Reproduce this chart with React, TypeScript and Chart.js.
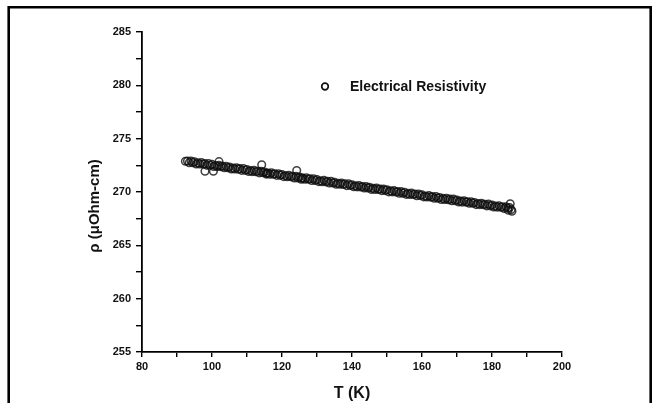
import React, { useEffect, useRef } from "react";
import { Chart, registerables } from "chart.js";

Chart.register(...registerables);

const SERIES_LABEL = "Electrical Resistivity";
const X_TITLE = "T (K)";
const Y_TITLE = "ρ (μOhm-cm)";

const X_MIN = 80;
const X_MAX = 200;
const X_STEP = 10;
const X_LABEL_STEP = 20;
const Y_MIN = 255;
const Y_MAX = 285;
const Y_STEP = 2.5;
const Y_LABEL_STEP = 5;

const T_VALUES = [
  93, 93.5, 94, 94.5, 95, 95.5, 96, 96.5, 97, 97.5,
  98, 98.5, 99, 99.5, 100, 100.5, 101, 101.5, 102, 102.5,
  103, 103.5, 104, 104.5, 105, 105.5, 106, 106.5, 107, 107.5,
  108, 108.5, 109, 109.5, 110, 110.5, 111, 111.5, 112, 112.5,
  113, 113.5, 114, 114.5, 115, 115.5, 116, 116.5, 117, 117.5,
  118, 118.5, 119, 119.5, 120, 120.5, 121, 121.5, 122, 122.5,
  123, 123.5, 124, 124.5, 125, 125.5, 126, 126.5, 127, 127.5,
  128, 128.5, 129, 129.5, 130, 130.5, 131, 131.5, 132, 132.5,
  133, 133.5, 134, 134.5, 135, 135.5, 136, 136.5, 137, 137.5,
  138, 138.5, 139, 139.5, 140, 140.5, 141, 141.5, 142, 142.5,
  143, 143.5, 144, 144.5, 145, 145.5, 146, 146.5, 147, 147.5,
  148, 148.5, 149, 149.5, 150, 150.5, 151, 151.5, 152, 152.5,
  153, 153.5, 154, 154.5, 155, 155.5, 156, 156.5, 157, 157.5,
  158, 158.5, 159, 159.5, 160, 160.5, 161, 161.5, 162, 162.5,
  163, 163.5, 164, 164.5, 165, 165.5, 166, 166.5, 167, 167.5,
  168, 168.5, 169, 169.5, 170, 170.5, 171, 171.5, 172, 172.5,
  173, 173.5, 174, 174.5, 175, 175.5, 176, 176.5, 177, 177.5,
  178, 178.5, 179, 179.5, 180, 180.5, 181, 181.5, 182, 182.5,
  183, 183.5, 184, 184.5, 185, 185.5,
];

const RHO_VALUES = [
  272.90, 272.75, 272.90, 272.75, 272.82, 272.63, 272.73, 272.62, 272.75, 272.62,
  272.66, 272.51, 272.66, 272.51, 272.59, 272.39, 272.49, 272.38, 272.51, 272.38,
  272.42, 272.27, 272.42, 272.27, 272.35, 272.15, 272.25, 272.15, 272.27, 272.14,
  272.19, 272.03, 272.19, 272.03, 272.11, 271.92, 272.01, 271.91, 272.04, 271.90,
  271.95, 271.79, 271.95, 271.80, 271.87, 271.68, 271.78, 271.67, 271.80, 271.66,
  271.71, 271.56, 271.71, 271.56, 271.63, 271.44, 271.54, 271.43, 271.56, 271.43,
  271.47, 271.32, 271.48, 271.32, 271.40, 271.20, 271.30, 271.20, 271.32, 271.19,
  271.24, 271.08, 271.24, 271.08, 271.16, 270.97, 271.06, 270.96, 271.09, 270.95,
  271.00, 270.84, 271.00, 270.85, 270.92, 270.73, 270.82, 270.72, 270.85, 270.71,
  270.76, 270.60, 270.76, 270.61, 270.68, 270.49, 270.59, 270.48, 270.61, 270.47,
  270.52, 270.37, 270.52, 270.37, 270.45, 270.25, 270.35, 270.24, 270.37, 270.24,
  270.28, 270.13, 270.28, 270.13, 270.21, 270.01, 270.11, 270.01, 270.13, 270.00,
  270.04, 269.89, 270.05, 269.89, 269.97, 269.78, 269.87, 269.77, 269.89, 269.76,
  269.81, 269.65, 269.81, 269.66, 269.73, 269.54, 269.63, 269.53, 269.66, 269.52,
  269.57, 269.41, 269.57, 269.42, 269.49, 269.30, 269.40, 269.29, 269.42, 269.28,
  269.33, 269.18, 269.33, 269.18, 269.25, 269.06, 269.16, 269.05, 269.18, 269.05,
  269.09, 268.94, 269.09, 268.94, 269.02, 268.82, 268.92, 268.82, 268.94, 268.81,
  268.85, 268.70, 268.86, 268.70, 268.78, 268.59, 268.68, 268.58, 268.70, 268.57,
  268.62, 268.46, 268.62, 268.47, 268.54, 268.35,
];

// individually visible scattered readings
const T_SCATTER = [92.4, 98.0, 100.4, 102.0, 114.2, 115.6, 124.2, 125.6, 184.6, 185.2, 185.7];
const RHO_SCATTER = [272.88, 271.95, 271.95, 272.85, 272.55, 271.75, 272.02, 271.3, 268.3, 268.9, 268.2];

const FONT = "'Liberation Sans', Arial, sans-serif";

const decorPlugin = {
  id: "decor",
  afterDraw(chart: any) {
    const ctx = chart.ctx as CanvasRenderingContext2D;
    ctx.save();
    // outer frame (no bottom edge)
    ctx.strokeStyle = "#000";
    ctx.lineWidth = 2.6;
    ctx.beginPath();
    ctx.moveTo(8.7, 403);
    ctx.lineTo(8.7, 7.2);
    ctx.lineTo(650.7, 7.2);
    ctx.lineTo(650.7, 403);
    ctx.stroke();

    ctx.fillStyle = "#111";
    // x title
    ctx.font = `bold 16px ${FONT}`;
    ctx.textAlign = "center";
    ctx.textBaseline = "alphabetic";
    const xs = chart.scales.x;
    ctx.fillText(X_TITLE, (xs.left + xs.right) / 2, 398);

    // y title
    ctx.save();
    ctx.translate(98.7, 206);
    ctx.rotate(-Math.PI / 2);
    ctx.font = `bold 15px ${FONT}`;
    ctx.fillText(Y_TITLE, 0, 0);
    ctx.restore();

    // legend
    ctx.beginPath();
    ctx.lineWidth = 1.7;
    ctx.strokeStyle = "#111";
    ctx.arc(325, 86.5, 3.3, 0, Math.PI * 2);
    ctx.stroke();
    ctx.font = `bold 14px ${FONT}`;
    ctx.textAlign = "left";
    ctx.textBaseline = "middle";
    ctx.fillText(SERIES_LABEL, 350, 87);
    ctx.restore();
  },
};

export default function App() {
  const ref = useRef<HTMLCanvasElement | null>(null);

  useEffect(() => {
    if (!ref.current) return;
    const points = T_VALUES.map((t, i) => ({ x: t, y: RHO_VALUES[i] })).concat(
      T_SCATTER.map((t, i) => ({ x: t, y: RHO_SCATTER[i] }))
    );
    const chart = new Chart(ref.current, {
      type: "scatter",
      data: {
        datasets: [
          {
            label: SERIES_LABEL,
            data: points,
            pointStyle: "circle",
            pointRadius: 3.8,
            pointBorderWidth: 1.5,
            pointBorderColor: "rgba(15,15,15,0.8)",
            pointBackgroundColor: "rgba(255,255,255,0)",
            showLine: false,
          },
        ],
      },
      options: {
        responsive: false,
        animation: false,
        devicePixelRatio: 1,
        layout: { padding: { left: 0, right: 92, top: 32, bottom: 0 } },
        plugins: {
          legend: { display: false },
          title: { display: false },
          tooltip: { enabled: false },
        },
        scales: {
          x: {
            type: "linear",
            min: X_MIN,
            max: X_MAX,
            afterFit: (s: any) => {
              s.height = 51;
            },
            border: { display: true, color: "#000", width: 1.8 },
            grid: {
              display: true,
              drawOnChartArea: false,
              drawTicks: true,
              tickLength: 5,
              color: "#000",
              lineWidth: 1.4,
            },
            ticks: {
              stepSize: X_STEP,
              autoSkip: false,
              maxRotation: 0,
              padding: 3,
              color: "#111",
              font: { family: FONT, size: 11, weight: "bold" },
              callback: (v: any) => (Number(v) % X_LABEL_STEP === 0 ? String(v) : ""),
            },
          },
          y: {
            type: "linear",
            min: Y_MIN,
            max: Y_MAX,
            afterFit: (s: any) => {
              s.width = 142;
            },
            border: { display: true, color: "#000", width: 1.8 },
            grid: {
              display: true,
              drawOnChartArea: false,
              drawTicks: true,
              tickLength: 6,
              color: "#000",
              lineWidth: 1.4,
            },
            ticks: {
              stepSize: Y_STEP,
              autoSkip: false,
              padding: 5,
              color: "#111",
              font: { family: FONT, size: 11, weight: "bold" },
              callback: (v: any) => (Number(v) % Y_LABEL_STEP === 0 ? String(v) : ""),
            },
          },
        },
      },
      plugins: [decorPlugin],
    } as any);
    return () => chart.destroy();
  }, []);

  return (
    <div style={{ position: "absolute", left: 0, top: 0, width: 654, height: 403, background: "#fff" }}>
      <canvas ref={ref} width={654} height={403} style={{ width: 654, height: 403, display: "block" }} />
    </div>
  );
}
